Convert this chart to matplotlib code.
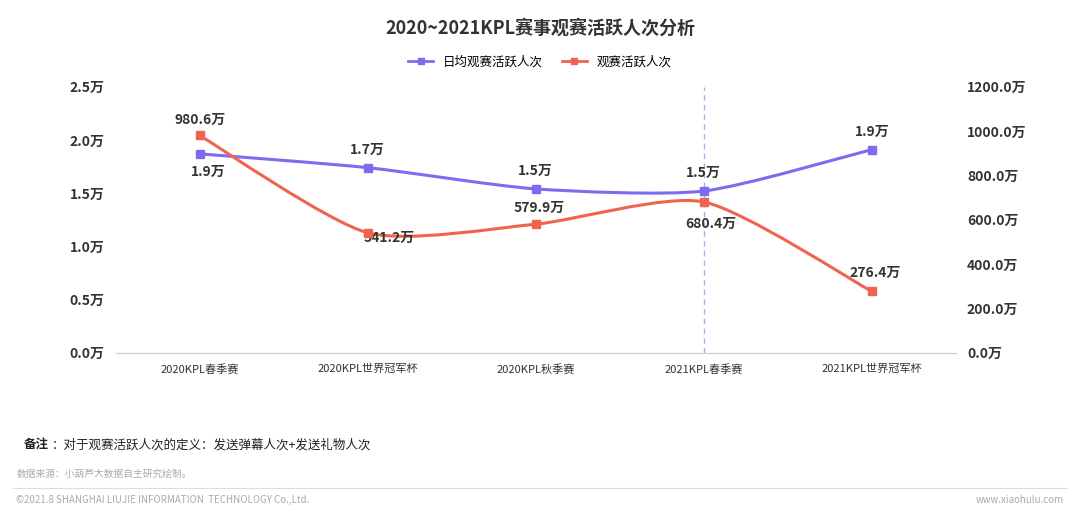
import matplotlib
matplotlib.use("Agg")
import matplotlib.pyplot as plt
from matplotlib.path import Path
from matplotlib.patches import PathPatch
import numpy as np

plt.rcParams['font.family'] = ['Noto Sans CJK SC', 'DejaVu Sans']

categories = ["2020KPL春季赛", "2020KPL世界冠军杯", "2020KPL秋季赛", "2021KPL春季赛", "2021KPL世界冠军杯"]
daily_active = [1.87, 1.74, 1.54, 1.52, 1.91]
daily_labels = ["1.9万", "1.7万", "1.5万", "1.5万", "1.9万"]
total_active = [980.6, 541.2, 579.9, 680.4, 276.4]
left_ticks = [0, 0.5, 1.0, 1.5, 2.0, 2.5]
right_ticks = [0, 200, 400, 600, 800, 1000, 1200]

purple = "#7B6CF0"
red = "#F0644F"

fig = plt.figure(figsize=(10.8, 5.11), dpi=100)
ax = fig.add_axes([0.107, 0.31, 0.778, 0.52])
ax2 = ax.twinx()
x = np.arange(len(categories))

def smooth(axis, xs, ys, color):
    xs = np.asarray(xs, float); ys = np.asarray(ys, float)
    verts = [(xs[0], ys[0])]; codes = [Path.MOVETO]
    n = len(xs)
    for i in range(n - 1):
        p0 = (xs[max(i-1, 0)], ys[max(i-1, 0)])
        p1 = (xs[i], ys[i]); p2 = (xs[i+1], ys[i+1])
        p3 = (xs[min(i+2, n-1)], ys[min(i+2, n-1)])
        t = 0.35 / 3
        c1 = (p1[0] + (p2[0]-p0[0])*t, p1[1] + (p2[1]-p0[1])*t)
        c2 = (p2[0] - (p3[0]-p1[0])*t, p2[1] - (p3[1]-p1[1])*t)
        verts += [c1, c2, p2]; codes += [Path.CURVE4]*3
    axis.add_patch(PathPatch(Path(verts, codes), fc='none', ec=color, lw=2.2, zorder=3))
    axis.plot(xs, ys, 's', color=color, ms=6, zorder=4)

ax.set_xlim(-0.5, 4.5)
ax.set_ylim(0, 2.5)
ax2.set_ylim(0, 1200)
smooth(ax, x, daily_active, purple)
smooth(ax2, x, total_active, red)
ax.axvline(3, color="#9DB8E8", ls=(0, (4, 3)), lw=1)

ax.set_xticks(x)
ax.set_xticklabels(categories, fontsize=8, color="#333333")
ax.set_yticks(left_ticks)
ax.set_yticklabels([f"{v:.1f}万" for v in left_ticks], fontsize=10, color="#333", fontweight='bold')
ax2.set_yticks(right_ticks)
ax2.set_yticklabels([f"{v:.1f}万" for v in right_ticks], fontsize=10, color="#333", fontweight='bold')
for a in (ax, ax2):
    for s in ["top", "left", "right"]:
        a.spines[s].set_visible(False)
    a.spines["bottom"].set_color("#CCCCCC")
    a.tick_params(length=0, pad=8)

doffs = [(0.05, -0.17), (0, 0.17), (0, 0.17), (0, 0.17), (0, 0.17)]
for i, (v, l) in enumerate(zip(daily_active, daily_labels)):
    ax.text(i + doffs[i][0], v + doffs[i][1], l, ha='center', va='center', fontsize=10, fontweight='bold', color='#333')
toffs = [(0, 70), (0.13, -25), (0.02, 75), (0.04, -100), (0.02, 85)]
for i, v in enumerate(total_active):
    ax2.text(i + toffs[i][0], v + toffs[i][1], f"{v}万", ha='center', va='center', fontsize=10, fontweight='bold', color='#333')

fig.text(0.5, 0.945, "2020~2021KPL赛事观赛活跃人次分析", ha='center', va='center', fontsize=13, fontweight='bold', color='#333')
from matplotlib.lines import Line2D
h = [Line2D([], [], color=purple, marker='s', lw=2, ms=5), Line2D([], [], color=red, marker='s', lw=2, ms=5)]
fig.legend(h, ["日均观赛活跃人次", "观赛活跃人次"], loc='center', bbox_to_anchor=(0.5, 0.878), ncol=2, frameon=False, fontsize=9, handlelength=2, columnspacing=1.5)

fig.text(0.022, 0.13, "备注", fontsize=9, fontweight='bold', color='#222', va='center')
fig.text(0.048, 0.13, "：对于观赛活跃人次的定义：发送弹幕人次+发送礼物人次", fontsize=9, color='#222', va='center')
fig.text(0.015, 0.072, "数据来源：小葫芦大数据自主研究绘制。", fontsize=7, color='#AAAAAA', va='center')
fig.add_artist(Line2D([0.012, 0.988], [0.045, 0.045], color='#DDDDDD', lw=0.8))
fig.text(0.015, 0.022, "©2021.8 SHANGHAI LIUJIE INFORMATION  TECHNOLOGY Co.,Ltd.", fontsize=7, color='#AAAAAA', va='center')
fig.text(0.985, 0.022, "www.xiaohulu.com", fontsize=7, color='#AAAAAA', va='center', ha='right')

fig.savefig("out.png", dpi=100)
